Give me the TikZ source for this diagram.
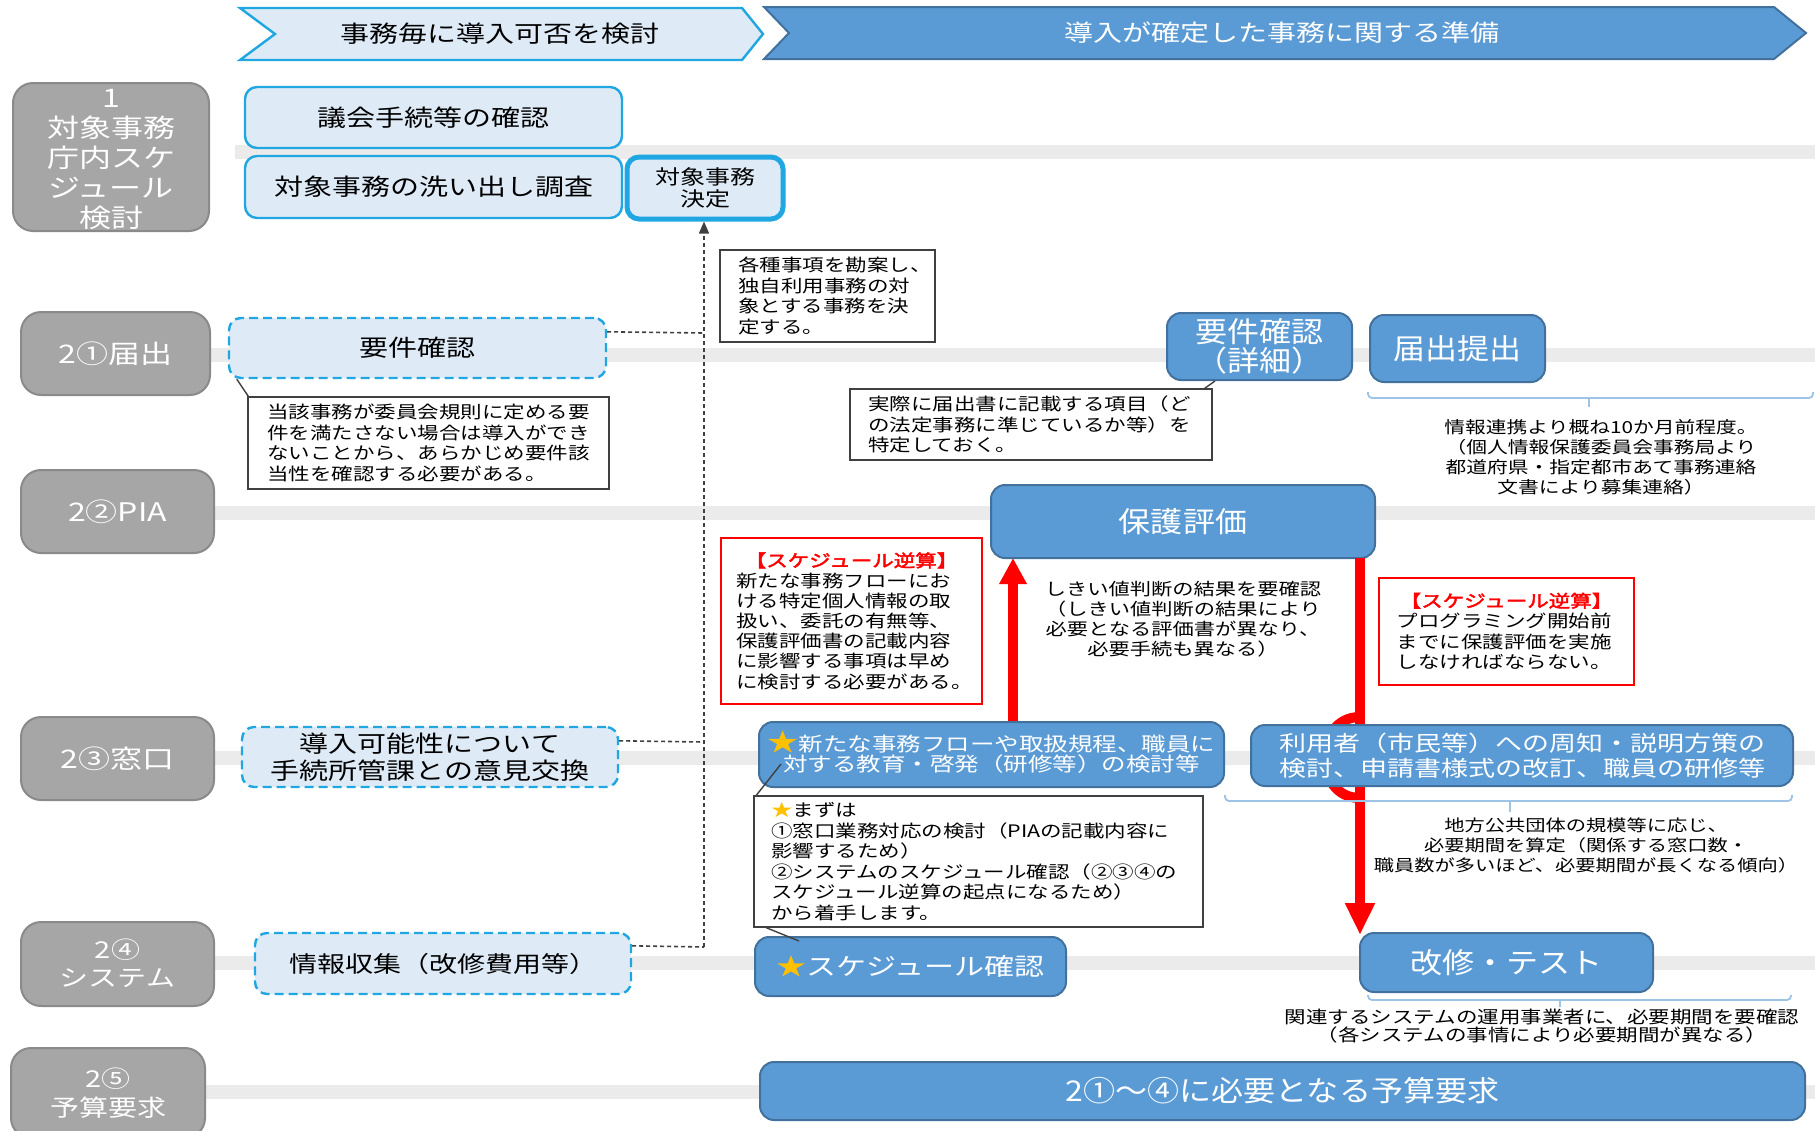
\documentclass[tikz,border=0pt]{standalone}
\usepackage{fontspec}
\setmainfont{Noto Sans CJK JP}[FakeStretch=1.25]
\newfontfamily\jpbold{Noto Sans CJK JP}[FakeStretch=1.25,FakeBold=2.5]
\newfontfamily\tallf{Noto Sans CJK JP}[FakeStretch=1.12]
\usetikzlibrary{arrows.meta}
\definecolor{dblue}{HTML}{5B9BD5}
\definecolor{dbord}{HTML}{41719C}
\definecolor{lblue}{HTML}{DEEBF7}
\definecolor{cyanb}{HTML}{20A6E0}
\definecolor{gfill}{HTML}{A6A6A6}
\definecolor{gbord}{HTML}{8A8A8A}
\definecolor{starc}{HTML}{FFC000}
\definecolor{brk}{HTML}{9DC3E6}
\definecolor{lanec}{HTML}{EBEBEB}
\definecolor{notebd}{HTML}{404040}
\definecolor{redc}{HTML}{FF0000}
\newcommand\fs[2]{\fontsize{#1}{#2}\selectfont\lineskiplimit=-\maxdimen\lineskip=0pt}
\newcommand\jl[1]{\raisebox{0pt}[0.88em][0.12em]{#1}}
\newcommand\jll[1]{\jl{\makebox[\hsize][l]{#1}}}
\newcommand\st{{\color{starc}★}}
\newcommand\bst{{\fs{12.5}{10}\color{starc}★}}
\newcommand\redtitle{\jl{\makebox[\hsize][c]{\color{redc}\jpbold 【スケジュール逆算】}}}
\begin{document}
\begin{tikzpicture}[x=0.5pt,y=-0.5pt,
  corners/.style n args={4}{at={({(#1+#3)/2},{(#2+#4)/2})},minimum width={(#3-#1)*0.5pt},minimum height={(#4-#2)*0.5pt}},
  lane/.style={lanec,line width=7pt},
  graylbl/.style={draw=gbord,line width=1pt,fill=gfill,rounded corners=10pt,text=white,inner sep=0pt,align=center,font=\fs{12.8}{15}},
  lightbox/.style={draw=cyanb,line width=1.2pt,fill=lblue,rounded corners=6pt,inner sep=0pt,align=center,font=\fs{11.6}{13.5}},
  dashbox/.style={lightbox,dash pattern=on 4.5pt off 2.5pt},
  darkbox/.style={draw=dbord,line width=1pt,fill=dblue,rounded corners=7pt,inner sep=0pt,text=white,align=center,font=\tallf\fs{14.3}{14.5}},
  notebox/.style={draw=notebd,line width=0.7pt,fill=white,inner sep=0pt,align=left,font=\fs{8.6}{10.25}},
  rednote/.style={notebox,draw=redc},
  plain/.style={inner sep=0pt,align=center,font=\fs{8.5}{10}},
  dotc/.style={notebd,line width=0.8pt,dash pattern=on 2pt off 1.5pt},
  callout/.style={notebd,line width=0.7pt},
  bracket/.style={brk,line width=0.9pt,rounded corners=2pt},
  redline/.style={redc,line width=5pt},
]
\useasboundingbox (0,0) rectangle (1815,1130);
\clip (0,0) rectangle (1815,1130);

% lanes
\draw[lane] (235,152) -- (1815,152);
\draw[lane] (210,355) -- (1815,355);
\draw[lane] (214,513) -- (1815,513);
\draw[lane] (214,758) -- (1815,758);
\draw[lane] (214,963) -- (1815,963);
\draw[lane] (205,1092) -- (1815,1092);

% chevrons
\draw[draw=cyanb,line width=1.2pt,fill=lblue] (240,8) -- (742,8) -- (763,34) -- (742,60) -- (240,60) -- (275,34) -- cycle;
\node[font=\fs{11.6}{13},inner sep=0pt] (chL) at (500,34) {\jl{事務毎に導入可否を検討}};
\draw[draw=dbord,line width=1pt,fill=dblue] (764,7) -- (1774,7) -- (1806,33) -- (1774,59) -- (764,59) -- (789,33) -- cycle;
\node[font=\fs{11.6}{13},text=white,inner sep=0pt] (chR) at (1282,33) {\jl{導入が確定した事務に関する準備}};

% gray row labels
\node[graylbl,corners={13}{83}{209}{231}] (g1) {};
\node[text=white,align=center,font=\fs{12.8}{15},inner sep=0pt] (g1t) at (111,158) {\jl{1}\\\jl{対象事務}\\\jl{庁内スケ}\\\jl{ジュール}\\\jl{検討}};
\node[graylbl,corners={21}{312}{210}{395}] (g21) {\jl{2①届出}};
\node[graylbl,corners={21}{470}{214}{553}] (g22) {\jl{2②PIA}};
\node[graylbl,corners={21}{717}{214}{800}] (g23) {\jl{2③窓口}};
\node[graylbl,corners={21}{922}{214}{1006},font=\fs{11.6}{14}] (g24) {\jl{2④}\\\jl{システム}};
\node[graylbl,corners={11}{1048}{205}{1138},font=\fs{11.6}{14.5}] (g25) {\jl{2⑤}\\\jl{予算要求}};

% red connectors (behind boxes)
\coordinate (ua) at (1013,558);
\coordinate (da) at (1360,558);
\draw[redline] (1360,717) .. controls (1313,717) and (1313,798) .. (1360,798);

% light boxes
\node[lightbox,corners={245}{87}{622}{148}] (gikai) {\jl{議会手続等の確認}};
\node[lightbox,corners={245}{156}{622}{218}] (arai) {\jl{対象事務の洗い出し調査}};
\node[lightbox,line width=2.5pt,corners={627}{157}{783}{219},font=\fs{10}{11}] (kettei) {\jl{対象事務}\\\jl{決定}};

% dashed boxes
\node[dashbox,corners={229}{318}{606}{378}] (yk) {\jl{要件確認}};
\node[dashbox,corners={242}{727}{618}{787}] (dony) {\jl{導入可能性について}\\\jl{手続所管課との意見交換}};
\node[dashbox,corners={255}{933}{631}{994},font=\fs{11.2}{13}] (joho) {\jl{情報収集（改修費用等）}};

% dark boxes
\node[darkbox,corners={1167}{313}{1352}{380}] (ykd) {\jl{要件確認}\\\jl{（詳細）}};
\node[darkbox,corners={1370}{315}{1545}{382}] (teis) {\jl{届出提出}};
\node[darkbox,corners={991}{485}{1375}{558}] (hyoka) {\jl{保護評価}};
\draw[redline,-{Triangle[width=14pt,length=16pt]}] (da) -- (da |- 0,935);
\node[darkbox,corners={759}{722}{1224}{787},font=\fs{9.8}{10}] (nfl) {\jl{\bst 新たな事務フローや取扱規程、職員に}\\\jl{対する教育・啓発（研修等）の検討等}};
\draw[redline,-{Triangle[width=13pt,length=13pt]}] (nfl.north -| ua) -- (ua);
\node[darkbox,corners={1251}{725}{1793}{786},font=\fs{10.8}{12.5}] (riyo) {\jl{利用者（市民等）への周知・説明方策の}\\\jl{検討、申請書様式の改訂、職員の研修等}};
\node[darkbox,corners={755}{937}{1066}{996},font=\fs{12}{13}] (sched) {\jl{\st スケジュール確認}};
\node[darkbox,corners={1360}{933}{1653}{992}] (kaishu) {\jl{改修・テスト}};
\node[darkbox,corners={760}{1062}{1805}{1120}] (yosan) {\jl{2①〜④に必要となる予算要求}};

% notes
\node[notebox,corners={720}{250}{935}{342},text width=89.5pt] (n1) {\jll{各種事項を勘案し、}\\\jll{独自利用事務の対}\\\jll{象とする事務を決}\\\jll{定する。}};
\node[notebox,corners={248}{397}{609}{489},text width=161.5pt] (n2) {\jll{当該事務が委員会規則に定める要}\\\jll{件を満たさない場合は導入ができ}\\\jll{ないことから、あらかじめ要件該}\\\jll{当性を確認する必要がある。}};
\node[notebox,corners={850}{389}{1212}{460},text width=163pt] (n3) {\jll{実際に届出書に記載する項目（ど}\\\jll{の法定事務に準じているか等）を}\\\jll{特定しておく。}};
\node[notebox,corners={754}{796}{1203}{927},text width=207.5pt] (n4) {\jll{\st まずは}\\\jll{①窓口業務対応の検討（PIAの記載内容に}\\\jll{影響するため）}\\\jll{②システムのスケジュール確認（②③④の}\\\jll{スケジュール逆算の起点になるため）}\\\jll{から着手します。}};
\node[rednote,corners={721}{538}{982}{704},text width=115.5pt,font=\fs{8.6}{10.1}] (r1) {\redtitle\\\jll{新たな事務フローにお}\\\jll{ける特定個人情報の取}\\\jll{扱い、委託の有無等、}\\\jll{保護評価書の記載内容}\\\jll{に影響する事項は早め}\\\jll{に検討する必要がある。}};
\node[rednote,corners={1379}{578}{1634}{685},text width=110pt] (r2) {\redtitle\\\jll{プログラミング開始前}\\\jll{までに保護評価を実施}\\\jll{しなければならない。}};

% free texts
\node[plain] (t1) at (1183,619) {\jl{しきい値判断の結果を要確認}\\\jl{（しきい値判断の結果により}\\\jl{必要となる評価書が異なり、}\\\jl{必要手続も異なる）}};
\node[plain,font=\fs{8.3}{10}] (t2) at (1601,457) {\jl{情報連携より概ね10か月前程度。}\\\jl{（個人情報保護委員会事務局より}\\\jl{都道府県・指定都市あて事務連絡}\\\jl{文書により募集連絡）}};
\node[plain,font=\fs{8.1}{10}] (t3) at (1586,845) {\jl{地方公共団体の規模等に応じ、}\\\jl{必要期間を算定（関係する窓口数・}\\\jl{職員数が多いほど、必要期間が長くなる傾向）}};
\node[plain,font=\fs{8.6}{9}] (t4) at (1542,1026) {\jl{関連するシステムの運用事業者に、必要期間を要確認}\\\jl{（各システムの事情により必要期間が異なる）}};

% brackets
\draw[bracket] (1368,392) -- (1368,398) -- (1813,398) -- (1813,392);
\draw[bracket] (1589,398) -- (1589,407);
\draw[bracket] (1225,795) -- (1225,801) -- (1792,801) -- (1792,795);
\draw[bracket] (1510,801) -- (1510,812);
\draw[bracket] (1368,995) -- (1368,1000) -- (1791,1000) -- (1791,995);
\draw[bracket] (1560,1000) -- (1560,1007);

% dotted connectors to 対象事務決定
\coordinate (vj1) at (704,333);
\coordinate (vj2) at (704,742);
\coordinate (vj3) at (704,947);
\draw[dotc] ([yshift=-7.5pt]yk.north east) -- (vj1);
\draw[dotc] ([yshift=-7.5pt]dony.north east) -- (vj2);
\draw[dotc] ([yshift=-7pt]joho.north east) -- (vj3);
\draw[dotc,-{Triangle[width=5pt,length=6pt]}] (vj3) -- (kettei.south -| vj3);

% callout lines
\draw[callout] ([xshift=0.5pt]n2.north west) -- ([xshift=4.5pt]yk.south west);
\draw[callout] ([xshift=-4pt]n3.north east) -- ([xshift=24.5pt]ykd.south west);
\draw[callout] ([xshift=1.5pt]n4.north west) -- ([xshift=11.5pt,yshift=12pt]nfl.south west);
\draw[callout] ([xshift=6.5pt]n4.south west) -- ([xshift=22.5pt,yshift=-2.5pt]sched.north west);
\end{tikzpicture}
\end{document}
